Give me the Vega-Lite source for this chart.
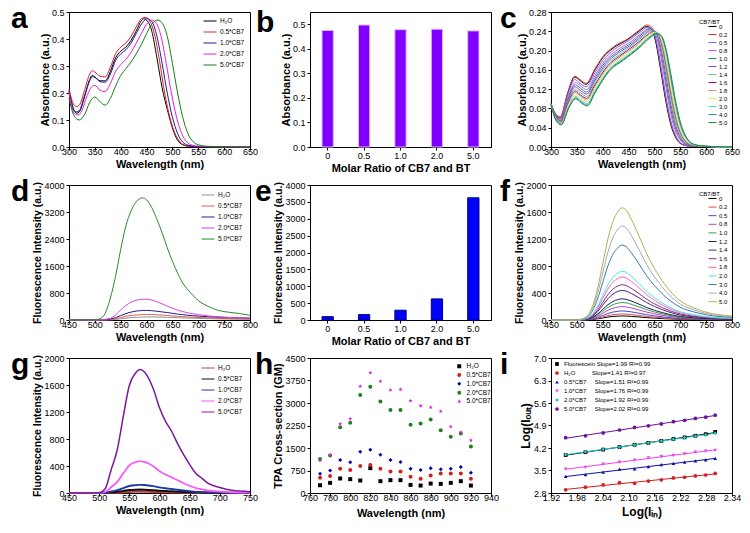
{
"$schema": "https://vega.github.io/schema/vega-lite/v6.json",
"padding": {"left": 10, "top": 3, "right": 0, "bottom": 0},
"background": "white",
"config": {
  "font": "Liberation Sans",
  "view": {"stroke": "#000", "strokeWidth": 1},
  "axis": {"labelFont": "Liberation Sans", "labelFontSize": 9, "labelColor": "#000", "titleFont": "Liberation Sans", "titleFontSize": 11, "titleFontWeight": "bold", "titleColor": "#000", "domainColor": "#000", "tickColor": "#000", "tickSize": 3, "grid": false, "labelFlush": false, "labelOverlap": false},
  "axisX": {"labelPadding": -3, "titlePadding": 2, "labelAngle": 0},
  "axisY": {"labelPadding": 2, "titlePadding": 1},
  "title": {"font": "Liberation Sans", "fontSize": 30, "fontWeight": "bold", "anchor": "start", "frame": "group", "offset": -26, "baseline": "alphabetic", "color": "#000"},
  "legend": {"labelFont": "Liberation Sans", "labelColor": "#000", "titleFont": "Liberation Sans", "titleFontWeight": "normal", "titleColor": "#000", "padding": 0, "orient": "none"},
  "line": {"interpolate": "monotone", "strokeWidth": 1, "clip": true}
},
"datasets": {
"a": [
{"s":"H₂O","x":300,"y":0.21},{"s":"H₂O","x":310,"y":0.135},{"s":"H₂O","x":315,"y":0.125},{"s":"H₂O","x":320,"y":0.13},{"s":"H₂O","x":330,"y":0.185},{"s":"H₂O","x":340,"y":0.25},{"s":"H₂O","x":345,"y":0.265},{"s":"H₂O","x":350,"y":0.26},{"s":"H₂O","x":360,"y":0.245},{"s":"H₂O","x":370,"y":0.245},{"s":"H₂O","x":380,"y":0.28},{"s":"H₂O","x":390,"y":0.33},{"s":"H₂O","x":400,"y":0.355},{"s":"H₂O","x":410,"y":0.37},{"s":"H₂O","x":420,"y":0.395},{"s":"H₂O","x":430,"y":0.43},{"s":"H₂O","x":440,"y":0.468},{"s":"H₂O","x":445,"y":0.475},{"s":"H₂O","x":450,"y":0.47},{"s":"H₂O","x":460,"y":0.43},{"s":"H₂O","x":470,"y":0.33},{"s":"H₂O","x":480,"y":0.22},{"s":"H₂O","x":490,"y":0.14},{"s":"H₂O","x":500,"y":0.07},{"s":"H₂O","x":510,"y":0.025},{"s":"H₂O","x":520,"y":0.008},{"s":"H₂O","x":530,"y":0.003},{"s":"H₂O","x":550,"y":0.001},{"s":"H₂O","x":600,"y":0},{"s":"H₂O","x":650,"y":0},
{"s":"0.5*CB7","x":300,"y":0.215},{"s":"0.5*CB7","x":310,"y":0.155},{"s":"0.5*CB7","x":315,"y":0.15},{"s":"0.5*CB7","x":320,"y":0.155},{"s":"0.5*CB7","x":330,"y":0.21},{"s":"0.5*CB7","x":340,"y":0.27},{"s":"0.5*CB7","x":345,"y":0.283},{"s":"0.5*CB7","x":350,"y":0.278},{"s":"0.5*CB7","x":360,"y":0.262},{"s":"0.5*CB7","x":370,"y":0.26},{"s":"0.5*CB7","x":380,"y":0.295},{"s":"0.5*CB7","x":390,"y":0.345},{"s":"0.5*CB7","x":400,"y":0.37},{"s":"0.5*CB7","x":410,"y":0.385},{"s":"0.5*CB7","x":420,"y":0.41},{"s":"0.5*CB7","x":430,"y":0.445},{"s":"0.5*CB7","x":440,"y":0.475},{"s":"0.5*CB7","x":447,"y":0.48},{"s":"0.5*CB7","x":455,"y":0.47},{"s":"0.5*CB7","x":465,"y":0.42},{"s":"0.5*CB7","x":475,"y":0.32},{"s":"0.5*CB7","x":485,"y":0.2},{"s":"0.5*CB7","x":495,"y":0.11},{"s":"0.5*CB7","x":505,"y":0.05},{"s":"0.5*CB7","x":515,"y":0.018},{"s":"0.5*CB7","x":525,"y":0.006},{"s":"0.5*CB7","x":540,"y":0.002},{"s":"0.5*CB7","x":575,"y":0.001},{"s":"0.5*CB7","x":650,"y":0},
{"s":"1.0*CB7","x":300,"y":0.205},{"s":"1.0*CB7","x":310,"y":0.135},{"s":"1.0*CB7","x":315,"y":0.13},{"s":"1.0*CB7","x":320,"y":0.135},{"s":"1.0*CB7","x":330,"y":0.19},{"s":"1.0*CB7","x":340,"y":0.245},{"s":"1.0*CB7","x":345,"y":0.26},{"s":"1.0*CB7","x":350,"y":0.258},{"s":"1.0*CB7","x":360,"y":0.242},{"s":"1.0*CB7","x":370,"y":0.24},{"s":"1.0*CB7","x":380,"y":0.27},{"s":"1.0*CB7","x":390,"y":0.32},{"s":"1.0*CB7","x":400,"y":0.345},{"s":"1.0*CB7","x":410,"y":0.36},{"s":"1.0*CB7","x":420,"y":0.385},{"s":"1.0*CB7","x":430,"y":0.42},{"s":"1.0*CB7","x":440,"y":0.455},{"s":"1.0*CB7","x":451,"y":0.475},{"s":"1.0*CB7","x":460,"y":0.465},{"s":"1.0*CB7","x":470,"y":0.41},{"s":"1.0*CB7","x":480,"y":0.31},{"s":"1.0*CB7","x":490,"y":0.2},{"s":"1.0*CB7","x":500,"y":0.11},{"s":"1.0*CB7","x":510,"y":0.05},{"s":"1.0*CB7","x":520,"y":0.018},{"s":"1.0*CB7","x":530,"y":0.007},{"s":"1.0*CB7","x":545,"y":0.002},{"s":"1.0*CB7","x":580,"y":0.001},{"s":"1.0*CB7","x":650,"y":0},
{"s":"2.0*CB7","x":300,"y":0.2},{"s":"2.0*CB7","x":310,"y":0.125},{"s":"2.0*CB7","x":318,"y":0.118},{"s":"2.0*CB7","x":325,"y":0.135},{"s":"2.0*CB7","x":335,"y":0.19},{"s":"2.0*CB7","x":345,"y":0.225},{"s":"2.0*CB7","x":350,"y":0.228},{"s":"2.0*CB7","x":360,"y":0.21},{"s":"2.0*CB7","x":370,"y":0.205},{"s":"2.0*CB7","x":380,"y":0.235},{"s":"2.0*CB7","x":390,"y":0.28},{"s":"2.0*CB7","x":400,"y":0.305},{"s":"2.0*CB7","x":410,"y":0.325},{"s":"2.0*CB7","x":420,"y":0.35},{"s":"2.0*CB7","x":430,"y":0.385},{"s":"2.0*CB7","x":440,"y":0.42},{"s":"2.0*CB7","x":450,"y":0.455},{"s":"2.0*CB7","x":460,"y":0.47},{"s":"2.0*CB7","x":468,"y":0.46},{"s":"2.0*CB7","x":478,"y":0.41},{"s":"2.0*CB7","x":488,"y":0.31},{"s":"2.0*CB7","x":498,"y":0.2},{"s":"2.0*CB7","x":508,"y":0.11},{"s":"2.0*CB7","x":518,"y":0.05},{"s":"2.0*CB7","x":528,"y":0.018},{"s":"2.0*CB7","x":538,"y":0.007},{"s":"2.0*CB7","x":550,"y":0.003},{"s":"2.0*CB7","x":580,"y":0.001},{"s":"2.0*CB7","x":650,"y":0},
{"s":"5.0*CB7","x":300,"y":0.18},{"s":"5.0*CB7","x":310,"y":0.115},{"s":"5.0*CB7","x":320,"y":0.1},{"s":"5.0*CB7","x":330,"y":0.12},{"s":"5.0*CB7","x":340,"y":0.165},{"s":"5.0*CB7","x":350,"y":0.185},{"s":"5.0*CB7","x":360,"y":0.168},{"s":"5.0*CB7","x":370,"y":0.155},{"s":"5.0*CB7","x":380,"y":0.18},{"s":"5.0*CB7","x":390,"y":0.225},{"s":"5.0*CB7","x":400,"y":0.265},{"s":"5.0*CB7","x":410,"y":0.29},{"s":"5.0*CB7","x":420,"y":0.315},{"s":"5.0*CB7","x":430,"y":0.345},{"s":"5.0*CB7","x":440,"y":0.38},{"s":"5.0*CB7","x":450,"y":0.42},{"s":"5.0*CB7","x":460,"y":0.455},{"s":"5.0*CB7","x":472,"y":0.47},{"s":"5.0*CB7","x":480,"y":0.46},{"s":"5.0*CB7","x":490,"y":0.41},{"s":"5.0*CB7","x":500,"y":0.31},{"s":"5.0*CB7","x":510,"y":0.2},{"s":"5.0*CB7","x":520,"y":0.11},{"s":"5.0*CB7","x":530,"y":0.05},{"s":"5.0*CB7","x":540,"y":0.02},{"s":"5.0*CB7","x":550,"y":0.008},{"s":"5.0*CB7","x":565,"y":0.003},{"s":"5.0*CB7","x":600,"y":0.001},{"s":"5.0*CB7","x":650,"y":0}
],
"b": [{"r":"0","y":0.475},{"r":"0.5","y":0.497},{"r":"1.0","y":0.478},{"r":"2.0","y":0.48},{"r":"5.0","y":0.473}],
"e": [{"r":"0","y":100},{"r":"0.5","y":160},{"r":"1.0","y":290},{"r":"2.0","y":625},{"r":"5.0","y":3620}],
"c": [
{"s":"0","x":300,"y":0.09},{"s":"0","x":310,"y":0.065},{"s":"0","x":318,"y":0.06},{"s":"0","x":332,"y":0.11},{"s":"0","x":346,"y":0.145},{"s":"0","x":356,"y":0.138},{"s":"0","x":368,"y":0.13},{"s":"0","x":385,"y":0.16},{"s":"0","x":400,"y":0.185},{"s":"0","x":420,"y":0.205},{"s":"0","x":450,"y":0.224},{"s":"0","x":470,"y":0.24},{"s":"0","x":485,"y":0.25},{"s":"0","x":494,"y":0.245},{"s":"0","x":502,"y":0.22},{"s":"0","x":512,"y":0.16},{"s":"0","x":522,"y":0.095},{"s":"0","x":532,"y":0.045},{"s":"0","x":542,"y":0.018},{"s":"0","x":552,"y":0.006},{"s":"0","x":567,"y":0.002},{"s":"0","x":592,"y":0.001},{"s":"0","x":650,"y":0},
{"s":"0.2","x":300,"y":0.09},{"s":"0.2","x":310,"y":0.068},{"s":"0.2","x":318,"y":0.063},{"s":"0.2","x":332,"y":0.112},{"s":"0.2","x":346,"y":0.147},{"s":"0.2","x":356,"y":0.14},{"s":"0.2","x":368,"y":0.132},{"s":"0.2","x":385,"y":0.162},{"s":"0.2","x":400,"y":0.187},{"s":"0.2","x":420,"y":0.207},{"s":"0.2","x":451,"y":0.226},{"s":"0.2","x":471,"y":0.243},{"s":"0.2","x":486,"y":0.253},{"s":"0.2","x":495,"y":0.248},{"s":"0.2","x":503,"y":0.222},{"s":"0.2","x":513,"y":0.16},{"s":"0.2","x":523,"y":0.095},{"s":"0.2","x":533,"y":0.045},{"s":"0.2","x":543,"y":0.018},{"s":"0.2","x":553,"y":0.006},{"s":"0.2","x":568,"y":0.002},{"s":"0.2","x":593,"y":0.001},{"s":"0.2","x":650,"y":0},
{"s":"0.5","x":300,"y":0.09},{"s":"0.5","x":310,"y":0.064},{"s":"0.5","x":318,"y":0.058},{"s":"0.5","x":332,"y":0.106},{"s":"0.5","x":346,"y":0.14},{"s":"0.5","x":356,"y":0.132},{"s":"0.5","x":368,"y":0.125},{"s":"0.5","x":385,"y":0.154},{"s":"0.5","x":402,"y":0.182},{"s":"0.5","x":422,"y":0.202},{"s":"0.5","x":452,"y":0.222},{"s":"0.5","x":472,"y":0.238},{"s":"0.5","x":487,"y":0.248},{"s":"0.5","x":496,"y":0.243},{"s":"0.5","x":504,"y":0.218},{"s":"0.5","x":514,"y":0.159},{"s":"0.5","x":524,"y":0.094},{"s":"0.5","x":534,"y":0.045},{"s":"0.5","x":544,"y":0.018},{"s":"0.5","x":554,"y":0.006},{"s":"0.5","x":569,"y":0.002},{"s":"0.5","x":594,"y":0.001},{"s":"0.5","x":650,"y":0},
{"s":"0.8","x":300,"y":0.09},{"s":"0.8","x":310,"y":0.063},{"s":"0.8","x":319,"y":0.057},{"s":"0.8","x":333,"y":0.103},{"s":"0.8","x":347,"y":0.134},{"s":"0.8","x":357,"y":0.127},{"s":"0.8","x":369,"y":0.119},{"s":"0.8","x":385,"y":0.148},{"s":"0.8","x":404,"y":0.179},{"s":"0.8","x":425,"y":0.199},{"s":"0.8","x":455,"y":0.219},{"s":"0.8","x":475,"y":0.236},{"s":"0.8","x":490,"y":0.246},{"s":"0.8","x":499,"y":0.241},{"s":"0.8","x":507,"y":0.216},{"s":"0.8","x":517,"y":0.158},{"s":"0.8","x":527,"y":0.094},{"s":"0.8","x":537,"y":0.045},{"s":"0.8","x":547,"y":0.019},{"s":"0.8","x":557,"y":0.007},{"s":"0.8","x":572,"y":0.002},{"s":"0.8","x":597,"y":0.001},{"s":"0.8","x":650,"y":0},
{"s":"1.0","x":300,"y":0.089},{"s":"1.0","x":310,"y":0.062},{"s":"1.0","x":319,"y":0.055},{"s":"1.0","x":333,"y":0.1},{"s":"1.0","x":347,"y":0.129},{"s":"1.0","x":357,"y":0.122},{"s":"1.0","x":369,"y":0.114},{"s":"1.0","x":385,"y":0.143},{"s":"1.0","x":405,"y":0.176},{"s":"1.0","x":427,"y":0.196},{"s":"1.0","x":457,"y":0.217},{"s":"1.0","x":477,"y":0.235},{"s":"1.0","x":492,"y":0.245},{"s":"1.0","x":501,"y":0.24},{"s":"1.0","x":509,"y":0.215},{"s":"1.0","x":519,"y":0.157},{"s":"1.0","x":529,"y":0.093},{"s":"1.0","x":539,"y":0.045},{"s":"1.0","x":549,"y":0.019},{"s":"1.0","x":559,"y":0.007},{"s":"1.0","x":574,"y":0.002},{"s":"1.0","x":599,"y":0.001},{"s":"1.0","x":650,"y":0},
{"s":"1.2","x":300,"y":0.089},{"s":"1.2","x":310,"y":0.061},{"s":"1.2","x":319,"y":0.054},{"s":"1.2","x":333,"y":0.097},{"s":"1.2","x":347,"y":0.125},{"s":"1.2","x":357,"y":0.117},{"s":"1.2","x":369,"y":0.11},{"s":"1.2","x":385,"y":0.138},{"s":"1.2","x":407,"y":0.174},{"s":"1.2","x":429,"y":0.194},{"s":"1.2","x":459,"y":0.215},{"s":"1.2","x":479,"y":0.233},{"s":"1.2","x":494,"y":0.243},{"s":"1.2","x":503,"y":0.238},{"s":"1.2","x":511,"y":0.213},{"s":"1.2","x":521,"y":0.156},{"s":"1.2","x":531,"y":0.093},{"s":"1.2","x":541,"y":0.045},{"s":"1.2","x":551,"y":0.019},{"s":"1.2","x":561,"y":0.007},{"s":"1.2","x":576,"y":0.003},{"s":"1.2","x":601,"y":0.001},{"s":"1.2","x":650,"y":0},
{"s":"1.4","x":300,"y":0.089},{"s":"1.4","x":310,"y":0.06},{"s":"1.4","x":319,"y":0.052},{"s":"1.4","x":333,"y":0.094},{"s":"1.4","x":347,"y":0.12},{"s":"1.4","x":357,"y":0.113},{"s":"1.4","x":369,"y":0.105},{"s":"1.4","x":385,"y":0.134},{"s":"1.4","x":408,"y":0.171},{"s":"1.4","x":431,"y":0.191},{"s":"1.4","x":461,"y":0.214},{"s":"1.4","x":481,"y":0.232},{"s":"1.4","x":496,"y":0.242},{"s":"1.4","x":505,"y":0.237},{"s":"1.4","x":513,"y":0.212},{"s":"1.4","x":523,"y":0.155},{"s":"1.4","x":533,"y":0.092},{"s":"1.4","x":543,"y":0.045},{"s":"1.4","x":553,"y":0.019},{"s":"1.4","x":563,"y":0.007},{"s":"1.4","x":578,"y":0.003},{"s":"1.4","x":603,"y":0.001},{"s":"1.4","x":650,"y":0},
{"s":"1.6","x":300,"y":0.089},{"s":"1.6","x":310,"y":0.059},{"s":"1.6","x":319,"y":0.051},{"s":"1.6","x":333,"y":0.091},{"s":"1.6","x":347,"y":0.116},{"s":"1.6","x":357,"y":0.108},{"s":"1.6","x":369,"y":0.101},{"s":"1.6","x":385,"y":0.129},{"s":"1.6","x":410,"y":0.169},{"s":"1.6","x":433,"y":0.189},{"s":"1.6","x":463,"y":0.212},{"s":"1.6","x":483,"y":0.23},{"s":"1.6","x":498,"y":0.24},{"s":"1.6","x":507,"y":0.235},{"s":"1.6","x":515,"y":0.21},{"s":"1.6","x":525,"y":0.154},{"s":"1.6","x":535,"y":0.092},{"s":"1.6","x":545,"y":0.045},{"s":"1.6","x":555,"y":0.019},{"s":"1.6","x":565,"y":0.007},{"s":"1.6","x":580,"y":0.003},{"s":"1.6","x":605,"y":0.001},{"s":"1.6","x":650,"y":0},
{"s":"1.8","x":300,"y":0.089},{"s":"1.8","x":310,"y":0.058},{"s":"1.8","x":319,"y":0.05},{"s":"1.8","x":333,"y":0.088},{"s":"1.8","x":347,"y":0.113},{"s":"1.8","x":357,"y":0.105},{"s":"1.8","x":369,"y":0.098},{"s":"1.8","x":385,"y":0.125},{"s":"1.8","x":411,"y":0.167},{"s":"1.8","x":434,"y":0.187},{"s":"1.8","x":464,"y":0.21},{"s":"1.8","x":484,"y":0.229},{"s":"1.8","x":499,"y":0.239},{"s":"1.8","x":508,"y":0.234},{"s":"1.8","x":516,"y":0.209},{"s":"1.8","x":526,"y":0.153},{"s":"1.8","x":536,"y":0.091},{"s":"1.8","x":546,"y":0.045},{"s":"1.8","x":556,"y":0.019},{"s":"1.8","x":566,"y":0.007},{"s":"1.8","x":581,"y":0.003},{"s":"1.8","x":606,"y":0.001},{"s":"1.8","x":650,"y":0},
{"s":"2.0","x":300,"y":0.088},{"s":"2.0","x":310,"y":0.057},{"s":"2.0","x":320,"y":0.049},{"s":"2.0","x":334,"y":0.086},{"s":"2.0","x":348,"y":0.109},{"s":"2.0","x":358,"y":0.101},{"s":"2.0","x":370,"y":0.094},{"s":"2.0","x":385,"y":0.122},{"s":"2.0","x":412,"y":0.165},{"s":"2.0","x":436,"y":0.185},{"s":"2.0","x":466,"y":0.209},{"s":"2.0","x":486,"y":0.228},{"s":"2.0","x":501,"y":0.238},{"s":"2.0","x":510,"y":0.233},{"s":"2.0","x":518,"y":0.208},{"s":"2.0","x":528,"y":0.152},{"s":"2.0","x":538,"y":0.091},{"s":"2.0","x":548,"y":0.045},{"s":"2.0","x":558,"y":0.02},{"s":"2.0","x":568,"y":0.008},{"s":"2.0","x":583,"y":0.003},{"s":"2.0","x":608,"y":0.001},{"s":"2.0","x":650,"y":0},
{"s":"3.0","x":300,"y":0.088},{"s":"3.0","x":310,"y":0.056},{"s":"3.0","x":320,"y":0.047},{"s":"3.0","x":334,"y":0.083},{"s":"3.0","x":348,"y":0.105},{"s":"3.0","x":358,"y":0.097},{"s":"3.0","x":370,"y":0.09},{"s":"3.0","x":385,"y":0.117},{"s":"3.0","x":414,"y":0.163},{"s":"3.0","x":438,"y":0.183},{"s":"3.0","x":468,"y":0.207},{"s":"3.0","x":488,"y":0.227},{"s":"3.0","x":503,"y":0.237},{"s":"3.0","x":512,"y":0.232},{"s":"3.0","x":520,"y":0.207},{"s":"3.0","x":530,"y":0.151},{"s":"3.0","x":540,"y":0.091},{"s":"3.0","x":550,"y":0.045},{"s":"3.0","x":560,"y":0.02},{"s":"3.0","x":570,"y":0.008},{"s":"3.0","x":585,"y":0.003},{"s":"3.0","x":610,"y":0.001},{"s":"3.0","x":650,"y":0},
{"s":"4.0","x":300,"y":0.088},{"s":"4.0","x":310,"y":0.055},{"s":"4.0","x":320,"y":0.047},{"s":"4.0","x":334,"y":0.081},{"s":"4.0","x":348,"y":0.102},{"s":"4.0","x":358,"y":0.094},{"s":"4.0","x":370,"y":0.087},{"s":"4.0","x":385,"y":0.114},{"s":"4.0","x":414,"y":0.161},{"s":"4.0","x":439,"y":0.181},{"s":"4.0","x":469,"y":0.206},{"s":"4.0","x":489,"y":0.226},{"s":"4.0","x":504,"y":0.236},{"s":"4.0","x":513,"y":0.231},{"s":"4.0","x":521,"y":0.206},{"s":"4.0","x":531,"y":0.15},{"s":"4.0","x":541,"y":0.09},{"s":"4.0","x":551,"y":0.045},{"s":"4.0","x":561,"y":0.02},{"s":"4.0","x":571,"y":0.008},{"s":"4.0","x":586,"y":0.003},{"s":"4.0","x":611,"y":0.001},{"s":"4.0","x":650,"y":0},
{"s":"5.0","x":300,"y":0.088},{"s":"5.0","x":310,"y":0.055},{"s":"5.0","x":320,"y":0.046},{"s":"5.0","x":334,"y":0.08},{"s":"5.0","x":348,"y":0.1},{"s":"5.0","x":358,"y":0.092},{"s":"5.0","x":370,"y":0.085},{"s":"5.0","x":385,"y":0.112},{"s":"5.0","x":415,"y":0.16},{"s":"5.0","x":440,"y":0.18},{"s":"5.0","x":470,"y":0.205},{"s":"5.0","x":490,"y":0.225},{"s":"5.0","x":505,"y":0.235},{"s":"5.0","x":514,"y":0.23},{"s":"5.0","x":522,"y":0.205},{"s":"5.0","x":532,"y":0.15},{"s":"5.0","x":542,"y":0.09},{"s":"5.0","x":552,"y":0.045},{"s":"5.0","x":562,"y":0.02},{"s":"5.0","x":572,"y":0.008},{"s":"5.0","x":587,"y":0.003},{"s":"5.0","x":612,"y":0.001},{"s":"5.0","x":650,"y":0}
],
"d": [
{"s":"H₂O","x":450,"y":0},{"s":"H₂O","x":500,"y":0},{"s":"H₂O","x":510,"y":0},{"s":"H₂O","x":520,"y":3},{"s":"H₂O","x":530,"y":5},{"s":"H₂O","x":540,"y":15},{"s":"H₂O","x":550,"y":35},{"s":"H₂O","x":560,"y":55},{"s":"H₂O","x":570,"y":70},{"s":"H₂O","x":580,"y":80},{"s":"H₂O","x":592,"y":87},{"s":"H₂O","x":600,"y":89},{"s":"H₂O","x":610,"y":90},{"s":"H₂O","x":620,"y":88},{"s":"H₂O","x":630,"y":84},{"s":"H₂O","x":640,"y":80},{"s":"H₂O","x":650,"y":74},{"s":"H₂O","x":660,"y":68},{"s":"H₂O","x":670,"y":62},{"s":"H₂O","x":680,"y":58},{"s":"H₂O","x":690,"y":54},{"s":"H₂O","x":700,"y":49},{"s":"H₂O","x":720,"y":40},{"s":"H₂O","x":740,"y":33},{"s":"H₂O","x":760,"y":28},{"s":"H₂O","x":780,"y":24},{"s":"H₂O","x":800,"y":20},
{"s":"0.5*CB7","x":450,"y":0},{"s":"0.5*CB7","x":500,"y":0},{"s":"0.5*CB7","x":510,"y":1},{"s":"0.5*CB7","x":520,"y":5},{"s":"0.5*CB7","x":530,"y":15},{"s":"0.5*CB7","x":540,"y":40},{"s":"0.5*CB7","x":550,"y":75},{"s":"0.5*CB7","x":560,"y":110},{"s":"0.5*CB7","x":570,"y":135},{"s":"0.5*CB7","x":580,"y":150},{"s":"0.5*CB7","x":592,"y":162},{"s":"0.5*CB7","x":600,"y":165},{"s":"0.5*CB7","x":610,"y":162},{"s":"0.5*CB7","x":620,"y":155},{"s":"0.5*CB7","x":630,"y":145},{"s":"0.5*CB7","x":640,"y":133},{"s":"0.5*CB7","x":650,"y":120},{"s":"0.5*CB7","x":660,"y":110},{"s":"0.5*CB7","x":670,"y":100},{"s":"0.5*CB7","x":680,"y":90},{"s":"0.5*CB7","x":690,"y":82},{"s":"0.5*CB7","x":700,"y":75},{"s":"0.5*CB7","x":720,"y":60},{"s":"0.5*CB7","x":740,"y":50},{"s":"0.5*CB7","x":760,"y":42},{"s":"0.5*CB7","x":780,"y":36},{"s":"0.5*CB7","x":800,"y":30},
{"s":"1.0*CB7","x":450,"y":0},{"s":"1.0*CB7","x":500,"y":0},{"s":"1.0*CB7","x":510,"y":2},{"s":"1.0*CB7","x":520,"y":10},{"s":"1.0*CB7","x":530,"y":30},{"s":"1.0*CB7","x":540,"y":70},{"s":"1.0*CB7","x":550,"y":130},{"s":"1.0*CB7","x":560,"y":190},{"s":"1.0*CB7","x":570,"y":235},{"s":"1.0*CB7","x":580,"y":265},{"s":"1.0*CB7","x":592,"y":282},{"s":"1.0*CB7","x":600,"y":285},{"s":"1.0*CB7","x":610,"y":275},{"s":"1.0*CB7","x":620,"y":260},{"s":"1.0*CB7","x":630,"y":240},{"s":"1.0*CB7","x":640,"y":220},{"s":"1.0*CB7","x":650,"y":198},{"s":"1.0*CB7","x":660,"y":175},{"s":"1.0*CB7","x":670,"y":158},{"s":"1.0*CB7","x":680,"y":140},{"s":"1.0*CB7","x":690,"y":128},{"s":"1.0*CB7","x":700,"y":115},{"s":"1.0*CB7","x":720,"y":95},{"s":"1.0*CB7","x":740,"y":82},{"s":"1.0*CB7","x":760,"y":72},{"s":"1.0*CB7","x":780,"y":65},{"s":"1.0*CB7","x":800,"y":58},
{"s":"2.0*CB7","x":450,"y":0},{"s":"2.0*CB7","x":500,"y":0},{"s":"2.0*CB7","x":510,"y":5},{"s":"2.0*CB7","x":520,"y":20},{"s":"2.0*CB7","x":530,"y":50},{"s":"2.0*CB7","x":540,"y":150},{"s":"2.0*CB7","x":550,"y":300},{"s":"2.0*CB7","x":560,"y":430},{"s":"2.0*CB7","x":570,"y":530},{"s":"2.0*CB7","x":580,"y":585},{"s":"2.0*CB7","x":592,"y":612},{"s":"2.0*CB7","x":600,"y":615},{"s":"2.0*CB7","x":610,"y":590},{"s":"2.0*CB7","x":620,"y":540},{"s":"2.0*CB7","x":630,"y":480},{"s":"2.0*CB7","x":640,"y":410},{"s":"2.0*CB7","x":650,"y":350},{"s":"2.0*CB7","x":660,"y":295},{"s":"2.0*CB7","x":670,"y":250},{"s":"2.0*CB7","x":680,"y":210},{"s":"2.0*CB7","x":690,"y":185},{"s":"2.0*CB7","x":700,"y":160},{"s":"2.0*CB7","x":720,"y":120},{"s":"2.0*CB7","x":740,"y":95},{"s":"2.0*CB7","x":760,"y":75},{"s":"2.0*CB7","x":780,"y":60},{"s":"2.0*CB7","x":800,"y":50},
{"s":"5.0*CB7","x":450,"y":0},{"s":"5.0*CB7","x":500,"y":5},{"s":"5.0*CB7","x":510,"y":40},{"s":"5.0*CB7","x":520,"y":200},{"s":"5.0*CB7","x":530,"y":650},{"s":"5.0*CB7","x":540,"y":1290},{"s":"5.0*CB7","x":550,"y":2090},{"s":"5.0*CB7","x":560,"y":2786},{"s":"5.0*CB7","x":570,"y":3234},{"s":"5.0*CB7","x":580,"y":3500},{"s":"5.0*CB7","x":592,"y":3620},{"s":"5.0*CB7","x":600,"y":3560},{"s":"5.0*CB7","x":610,"y":3333},{"s":"5.0*CB7","x":620,"y":2985},{"s":"5.0*CB7","x":630,"y":2587},{"s":"5.0*CB7","x":640,"y":2139},{"s":"5.0*CB7","x":650,"y":1741},{"s":"5.0*CB7","x":660,"y":1393},{"s":"5.0*CB7","x":670,"y":1094},{"s":"5.0*CB7","x":680,"y":895},{"s":"5.0*CB7","x":690,"y":726},{"s":"5.0*CB7","x":700,"y":577},{"s":"5.0*CB7","x":720,"y":398},{"s":"5.0*CB7","x":740,"y":279},{"s":"5.0*CB7","x":760,"y":229},{"s":"5.0*CB7","x":780,"y":189},{"s":"5.0*CB7","x":800,"y":140}
],
"f": [
{"s":"0","x":450,"y":0},{"s":"0","x":500,"y":0},{"s":"0","x":515,"y":1},{"s":"0","x":530,"y":7},{"s":"0","x":540,"y":17},{"s":"0","x":550,"y":30},{"s":"0","x":560,"y":43},{"s":"0","x":570,"y":53},{"s":"0","x":580,"y":58},{"s":"0","x":587,"y":60},{"s":"0","x":595,"y":59},{"s":"0","x":605,"y":54},{"s":"0","x":620,"y":45},{"s":"0","x":635,"y":35},{"s":"0","x":650,"y":28},{"s":"0","x":665,"y":21},{"s":"0","x":680,"y":16},{"s":"0","x":700,"y":10},{"s":"0","x":725,"y":7},{"s":"0","x":750,"y":4},{"s":"0","x":800,"y":2},
{"s":"0.2","x":450,"y":0},{"s":"0.2","x":500,"y":0},{"s":"0.2","x":515,"y":2},{"s":"0.2","x":530,"y":11},{"s":"0.2","x":540,"y":25},{"s":"0.2","x":550,"y":45},{"s":"0.2","x":560,"y":65},{"s":"0.2","x":570,"y":79},{"s":"0.2","x":580,"y":87},{"s":"0.2","x":587,"y":90},{"s":"0.2","x":595,"y":88},{"s":"0.2","x":605,"y":81},{"s":"0.2","x":620,"y":68},{"s":"0.2","x":635,"y":53},{"s":"0.2","x":650,"y":41},{"s":"0.2","x":665,"y":32},{"s":"0.2","x":680,"y":23},{"s":"0.2","x":700,"y":15},{"s":"0.2","x":725,"y":10},{"s":"0.2","x":750,"y":6},{"s":"0.2","x":800,"y":3},
{"s":"0.5","x":450,"y":0},{"s":"0.5","x":500,"y":0},{"s":"0.5","x":515,"y":3},{"s":"0.5","x":530,"y":16},{"s":"0.5","x":540,"y":38},{"s":"0.5","x":550,"y":67},{"s":"0.5","x":560,"y":96},{"s":"0.5","x":570,"y":118},{"s":"0.5","x":580,"y":130},{"s":"0.5","x":587,"y":134},{"s":"0.5","x":595,"y":131},{"s":"0.5","x":605,"y":121},{"s":"0.5","x":620,"y":101},{"s":"0.5","x":635,"y":79},{"s":"0.5","x":650,"y":62},{"s":"0.5","x":665,"y":47},{"s":"0.5","x":680,"y":35},{"s":"0.5","x":700,"y":23},{"s":"0.5","x":725,"y":15},{"s":"0.5","x":750,"y":9},{"s":"0.5","x":800,"y":5},
{"s":"0.8","x":450,"y":0},{"s":"0.8","x":500,"y":0},{"s":"0.8","x":515,"y":4},{"s":"0.8","x":530,"y":24},{"s":"0.8","x":540,"y":56},{"s":"0.8","x":550,"y":100},{"s":"0.8","x":560,"y":143},{"s":"0.8","x":570,"y":175},{"s":"0.8","x":580,"y":193},{"s":"0.8","x":587,"y":199},{"s":"0.8","x":595,"y":195},{"s":"0.8","x":605,"y":179},{"s":"0.8","x":620,"y":149},{"s":"0.8","x":635,"y":117},{"s":"0.8","x":650,"y":92},{"s":"0.8","x":665,"y":70},{"s":"0.8","x":680,"y":52},{"s":"0.8","x":700,"y":34},{"s":"0.8","x":725,"y":22},{"s":"0.8","x":750,"y":14},{"s":"0.8","x":800,"y":7},
{"s":"1.0","x":450,"y":0},{"s":"1.0","x":500,"y":0},{"s":"1.0","x":515,"y":5},{"s":"1.0","x":530,"y":31},{"s":"1.0","x":540,"y":73},{"s":"1.0","x":550,"y":130},{"s":"1.0","x":560,"y":186},{"s":"1.0","x":570,"y":228},{"s":"1.0","x":580,"y":251},{"s":"1.0","x":587,"y":259},{"s":"1.0","x":595,"y":254},{"s":"1.0","x":605,"y":233},{"s":"1.0","x":620,"y":194},{"s":"1.0","x":635,"y":153},{"s":"1.0","x":650,"y":119},{"s":"1.0","x":665,"y":91},{"s":"1.0","x":680,"y":67},{"s":"1.0","x":700,"y":44},{"s":"1.0","x":725,"y":28},{"s":"1.0","x":750,"y":18},{"s":"1.0","x":800,"y":9},
{"s":"1.2","x":450,"y":0},{"s":"1.2","x":500,"y":0},{"s":"1.2","x":515,"y":6},{"s":"1.2","x":530,"y":38},{"s":"1.2","x":540,"y":88},{"s":"1.2","x":550,"y":157},{"s":"1.2","x":560,"y":225},{"s":"1.2","x":570,"y":275},{"s":"1.2","x":580,"y":304},{"s":"1.2","x":587,"y":313},{"s":"1.2","x":595,"y":307},{"s":"1.2","x":605,"y":282},{"s":"1.2","x":620,"y":235},{"s":"1.2","x":635,"y":185},{"s":"1.2","x":650,"y":144},{"s":"1.2","x":665,"y":110},{"s":"1.2","x":680,"y":81},{"s":"1.2","x":700,"y":53},{"s":"1.2","x":725,"y":34},{"s":"1.2","x":750,"y":22},{"s":"1.2","x":800,"y":11},
{"s":"1.4","x":450,"y":0},{"s":"1.4","x":500,"y":0},{"s":"1.4","x":515,"y":9},{"s":"1.4","x":530,"y":53},{"s":"1.4","x":540,"y":123},{"s":"1.4","x":550,"y":219},{"s":"1.4","x":560,"y":315},{"s":"1.4","x":570,"y":385},{"s":"1.4","x":580,"y":425},{"s":"1.4","x":587,"y":438},{"s":"1.4","x":595,"y":429},{"s":"1.4","x":605,"y":394},{"s":"1.4","x":620,"y":329},{"s":"1.4","x":635,"y":258},{"s":"1.4","x":650,"y":201},{"s":"1.4","x":665,"y":153},{"s":"1.4","x":680,"y":114},{"s":"1.4","x":700,"y":74},{"s":"1.4","x":725,"y":48},{"s":"1.4","x":750,"y":31},{"s":"1.4","x":800,"y":15},
{"s":"1.6","x":450,"y":0},{"s":"1.6","x":500,"y":0},{"s":"1.6","x":515,"y":10},{"s":"1.6","x":530,"y":63},{"s":"1.6","x":540,"y":146},{"s":"1.6","x":550,"y":261},{"s":"1.6","x":560,"y":376},{"s":"1.6","x":570,"y":459},{"s":"1.6","x":580,"y":506},{"s":"1.6","x":587,"y":522},{"s":"1.6","x":595,"y":512},{"s":"1.6","x":605,"y":470},{"s":"1.6","x":620,"y":392},{"s":"1.6","x":635,"y":308},{"s":"1.6","x":650,"y":240},{"s":"1.6","x":665,"y":183},{"s":"1.6","x":680,"y":136},{"s":"1.6","x":700,"y":89},{"s":"1.6","x":725,"y":57},{"s":"1.6","x":750,"y":37},{"s":"1.6","x":800,"y":18},
{"s":"1.8","x":450,"y":0},{"s":"1.8","x":500,"y":0},{"s":"1.8","x":515,"y":13},{"s":"1.8","x":530,"y":76},{"s":"1.8","x":540,"y":178},{"s":"1.8","x":550,"y":319},{"s":"1.8","x":560,"y":459},{"s":"1.8","x":570,"y":561},{"s":"1.8","x":580,"y":618},{"s":"1.8","x":587,"y":637},{"s":"1.8","x":595,"y":624},{"s":"1.8","x":605,"y":573},{"s":"1.8","x":620,"y":478},{"s":"1.8","x":635,"y":376},{"s":"1.8","x":650,"y":293},{"s":"1.8","x":665,"y":223},{"s":"1.8","x":680,"y":166},{"s":"1.8","x":700,"y":108},{"s":"1.8","x":725,"y":70},{"s":"1.8","x":750,"y":45},{"s":"1.8","x":800,"y":22},
{"s":"2.0","x":450,"y":0},{"s":"2.0","x":500,"y":0},{"s":"2.0","x":515,"y":14},{"s":"2.0","x":530,"y":87},{"s":"2.0","x":540,"y":202},{"s":"2.0","x":550,"y":361},{"s":"2.0","x":560,"y":519},{"s":"2.0","x":570,"y":634},{"s":"2.0","x":580,"y":699},{"s":"2.0","x":587,"y":721},{"s":"2.0","x":595,"y":707},{"s":"2.0","x":605,"y":649},{"s":"2.0","x":620,"y":541},{"s":"2.0","x":635,"y":425},{"s":"2.0","x":650,"y":332},{"s":"2.0","x":665,"y":252},{"s":"2.0","x":680,"y":187},{"s":"2.0","x":700,"y":123},{"s":"2.0","x":725,"y":79},{"s":"2.0","x":750,"y":50},{"s":"2.0","x":800,"y":25},
{"s":"3.0","x":450,"y":0},{"s":"3.0","x":500,"y":0},{"s":"3.0","x":515,"y":22},{"s":"3.0","x":530,"y":133},{"s":"3.0","x":540,"y":311},{"s":"3.0","x":550,"y":555},{"s":"3.0","x":560,"y":799},{"s":"3.0","x":570,"y":977},{"s":"3.0","x":580,"y":1077},{"s":"3.0","x":587,"y":1110},{"s":"3.0","x":595,"y":1088},{"s":"3.0","x":605,"y":999},{"s":"3.0","x":620,"y":833},{"s":"3.0","x":635,"y":655},{"s":"3.0","x":650,"y":511},{"s":"3.0","x":665,"y":389},{"s":"3.0","x":680,"y":289},{"s":"3.0","x":700,"y":189},{"s":"3.0","x":725,"y":122},{"s":"3.0","x":750,"y":78},{"s":"3.0","x":800,"y":39},
{"s":"4.0","x":450,"y":0},{"s":"4.0","x":500,"y":0},{"s":"4.0","x":515,"y":28},{"s":"4.0","x":530,"y":167},{"s":"4.0","x":540,"y":390},{"s":"4.0","x":550,"y":697},{"s":"4.0","x":560,"y":1003},{"s":"4.0","x":570,"y":1226},{"s":"4.0","x":580,"y":1351},{"s":"4.0","x":587,"y":1393},{"s":"4.0","x":595,"y":1365},{"s":"4.0","x":605,"y":1254},{"s":"4.0","x":620,"y":1045},{"s":"4.0","x":635,"y":822},{"s":"4.0","x":650,"y":641},{"s":"4.0","x":665,"y":488},{"s":"4.0","x":680,"y":362},{"s":"4.0","x":700,"y":237},{"s":"4.0","x":725,"y":153},{"s":"4.0","x":750,"y":98},{"s":"4.0","x":800,"y":49},
{"s":"5.0","x":450,"y":0},{"s":"5.0","x":500,"y":0},{"s":"5.0","x":515,"y":33},{"s":"5.0","x":530,"y":199},{"s":"5.0","x":540,"y":465},{"s":"5.0","x":550,"y":831},{"s":"5.0","x":560,"y":1197},{"s":"5.0","x":570,"y":1463},{"s":"5.0","x":580,"y":1612},{"s":"5.0","x":587,"y":1662},{"s":"5.0","x":595,"y":1629},{"s":"5.0","x":605,"y":1496},{"s":"5.0","x":620,"y":1247},{"s":"5.0","x":635,"y":981},{"s":"5.0","x":650,"y":765},{"s":"5.0","x":665,"y":582},{"s":"5.0","x":680,"y":432},{"s":"5.0","x":700,"y":283},{"s":"5.0","x":725,"y":183},{"s":"5.0","x":750,"y":116},{"s":"5.0","x":800,"y":58}
],
"g": [
{"s":"H₂O","x":450,"y":0},{"s":"H₂O","x":500,"y":0},{"s":"H₂O","x":510,"y":1},{"s":"H₂O","x":520,"y":4},{"s":"H₂O","x":530,"y":7},{"s":"H₂O","x":540,"y":12},{"s":"H₂O","x":550,"y":17},{"s":"H₂O","x":560,"y":19},{"s":"H₂O","x":568,"y":20},{"s":"H₂O","x":575,"y":20},{"s":"H₂O","x":590,"y":17},{"s":"H₂O","x":600,"y":14},{"s":"H₂O","x":610,"y":12},{"s":"H₂O","x":620,"y":10},{"s":"H₂O","x":630,"y":8},{"s":"H₂O","x":640,"y":6},{"s":"H₂O","x":650,"y":5},{"s":"H₂O","x":660,"y":3},{"s":"H₂O","x":670,"y":2},{"s":"H₂O","x":680,"y":2},{"s":"H₂O","x":700,"y":1},{"s":"H₂O","x":720,"y":0},{"s":"H₂O","x":750,"y":0},
{"s":"0.5*CB7","x":450,"y":0},{"s":"0.5*CB7","x":500,"y":0},{"s":"0.5*CB7","x":510,"y":2},{"s":"0.5*CB7","x":520,"y":10},{"s":"0.5*CB7","x":530,"y":18},{"s":"0.5*CB7","x":540,"y":31},{"s":"0.5*CB7","x":550,"y":44},{"s":"0.5*CB7","x":560,"y":49},{"s":"0.5*CB7","x":568,"y":50},{"s":"0.5*CB7","x":575,"y":49},{"s":"0.5*CB7","x":590,"y":42},{"s":"0.5*CB7","x":600,"y":35},{"s":"0.5*CB7","x":610,"y":29},{"s":"0.5*CB7","x":620,"y":25},{"s":"0.5*CB7","x":630,"y":20},{"s":"0.5*CB7","x":640,"y":16},{"s":"0.5*CB7","x":650,"y":12},{"s":"0.5*CB7","x":660,"y":8},{"s":"0.5*CB7","x":670,"y":6},{"s":"0.5*CB7","x":680,"y":4},{"s":"0.5*CB7","x":700,"y":2},{"s":"0.5*CB7","x":720,"y":1},{"s":"0.5*CB7","x":750,"y":1},
{"s":"1.0*CB7","x":450,"y":0},{"s":"1.0*CB7","x":500,"y":0},{"s":"1.0*CB7","x":510,"y":4},{"s":"1.0*CB7","x":520,"y":23},{"s":"1.0*CB7","x":530,"y":42},{"s":"1.0*CB7","x":540,"y":74},{"s":"1.0*CB7","x":550,"y":104},{"s":"1.0*CB7","x":560,"y":116},{"s":"1.0*CB7","x":568,"y":120},{"s":"1.0*CB7","x":575,"y":118},{"s":"1.0*CB7","x":590,"y":101},{"s":"1.0*CB7","x":600,"y":83},{"s":"1.0*CB7","x":610,"y":70},{"s":"1.0*CB7","x":620,"y":60},{"s":"1.0*CB7","x":630,"y":48},{"s":"1.0*CB7","x":640,"y":37},{"s":"1.0*CB7","x":650,"y":28},{"s":"1.0*CB7","x":660,"y":19},{"s":"1.0*CB7","x":670,"y":14},{"s":"1.0*CB7","x":680,"y":10},{"s":"1.0*CB7","x":700,"y":5},{"s":"1.0*CB7","x":720,"y":3},{"s":"1.0*CB7","x":750,"y":1},
{"s":"2.0*CB7","x":450,"y":0},{"s":"2.0*CB7","x":500,"y":1},{"s":"2.0*CB7","x":510,"y":16},{"s":"2.0*CB7","x":520,"y":89},{"s":"2.0*CB7","x":530,"y":165},{"s":"2.0*CB7","x":540,"y":291},{"s":"2.0*CB7","x":550,"y":409},{"s":"2.0*CB7","x":560,"y":456},{"s":"2.0*CB7","x":568,"y":470},{"s":"2.0*CB7","x":575,"y":461},{"s":"2.0*CB7","x":590,"y":395},{"s":"2.0*CB7","x":600,"y":324},{"s":"2.0*CB7","x":610,"y":273},{"s":"2.0*CB7","x":620,"y":235},{"s":"2.0*CB7","x":630,"y":188},{"s":"2.0*CB7","x":640,"y":146},{"s":"2.0*CB7","x":650,"y":108},{"s":"2.0*CB7","x":660,"y":75},{"s":"2.0*CB7","x":670,"y":56},{"s":"2.0*CB7","x":680,"y":38},{"s":"2.0*CB7","x":700,"y":21},{"s":"2.0*CB7","x":720,"y":10},{"s":"2.0*CB7","x":750,"y":5},
{"s":"5.0*CB7","x":450,"y":0},{"s":"5.0*CB7","x":500,"y":5},{"s":"5.0*CB7","x":510,"y":64},{"s":"5.0*CB7","x":520,"y":348},{"s":"5.0*CB7","x":530,"y":641},{"s":"5.0*CB7","x":540,"y":1135},{"s":"5.0*CB7","x":550,"y":1592},{"s":"5.0*CB7","x":560,"y":1775},{"s":"5.0*CB7","x":568,"y":1830},{"s":"5.0*CB7","x":575,"y":1793},{"s":"5.0*CB7","x":590,"y":1537},{"s":"5.0*CB7","x":600,"y":1263},{"s":"5.0*CB7","x":610,"y":1061},{"s":"5.0*CB7","x":620,"y":915},{"s":"5.0*CB7","x":630,"y":732},{"s":"5.0*CB7","x":640,"y":567},{"s":"5.0*CB7","x":650,"y":421},{"s":"5.0*CB7","x":660,"y":293},{"s":"5.0*CB7","x":670,"y":220},{"s":"5.0*CB7","x":680,"y":146},{"s":"5.0*CB7","x":700,"y":81},{"s":"5.0*CB7","x":720,"y":40},{"s":"5.0*CB7","x":750,"y":20}
],
"h": [
{"s":"H₂O","x":770,"y":259},{"s":"H₂O","x":780,"y":338},{"s":"H₂O","x":790,"y":484},{"s":"H₂O","x":800,"y":461},{"s":"H₂O","x":810,"y":416},{"s":"H₂O","x":820,"y":830},{"s":"H₂O","x":830,"y":394},{"s":"H₂O","x":840,"y":428},{"s":"H₂O","x":850,"y":428},{"s":"H₂O","x":860,"y":270},{"s":"H₂O","x":870,"y":248},{"s":"H₂O","x":880,"y":315},{"s":"H₂O","x":890,"y":304},{"s":"H₂O","x":900,"y":338},{"s":"H₂O","x":910,"y":394},{"s":"H₂O","x":920,"y":248},
{"s":"0.5*CB7","x":770,"y":506},{"s":"0.5*CB7","x":780,"y":563},{"s":"0.5*CB7","x":790,"y":810},{"s":"0.5*CB7","x":800,"y":765},{"s":"0.5*CB7","x":810,"y":900},{"s":"0.5*CB7","x":820,"y":934},{"s":"0.5*CB7","x":830,"y":810},{"s":"0.5*CB7","x":840,"y":720},{"s":"0.5*CB7","x":850,"y":720},{"s":"0.5*CB7","x":860,"y":540},{"s":"0.5*CB7","x":870,"y":473},{"s":"0.5*CB7","x":880,"y":585},{"s":"0.5*CB7","x":890,"y":653},{"s":"0.5*CB7","x":900,"y":653},{"s":"0.5*CB7","x":910,"y":653},{"s":"0.5*CB7","x":920,"y":473},
{"s":"1.0*CB7","x":770,"y":641},{"s":"1.0*CB7","x":780,"y":754},{"s":"1.0*CB7","x":790,"y":1103},{"s":"1.0*CB7","x":800,"y":1024},{"s":"1.0*CB7","x":810,"y":1373},{"s":"1.0*CB7","x":820,"y":1440},{"s":"1.0*CB7","x":830,"y":1271},{"s":"1.0*CB7","x":840,"y":1103},{"s":"1.0*CB7","x":850,"y":1035},{"s":"1.0*CB7","x":860,"y":810},{"s":"1.0*CB7","x":870,"y":765},{"s":"1.0*CB7","x":880,"y":821},{"s":"1.0*CB7","x":890,"y":788},{"s":"1.0*CB7","x":900,"y":810},{"s":"1.0*CB7","x":910,"y":866},{"s":"1.0*CB7","x":920,"y":675},
{"s":"2.0*CB7","x":770,"y":1136},{"s":"2.0*CB7","x":780,"y":1250},{"s":"2.0*CB7","x":790,"y":2194},{"s":"2.0*CB7","x":800,"y":2340},{"s":"2.0*CB7","x":810,"y":3263},{"s":"2.0*CB7","x":820,"y":3544},{"s":"2.0*CB7","x":830,"y":3049},{"s":"2.0*CB7","x":840,"y":2768},{"s":"2.0*CB7","x":850,"y":2768},{"s":"2.0*CB7","x":860,"y":2273},{"s":"2.0*CB7","x":870,"y":2318},{"s":"2.0*CB7","x":880,"y":2453},{"s":"2.0*CB7","x":890,"y":2093},{"s":"2.0*CB7","x":900,"y":1879},{"s":"2.0*CB7","x":910,"y":1980},{"s":"2.0*CB7","x":920,"y":1553},
{"s":"5.0*CB7","x":770,"y":1080},{"s":"5.0*CB7","x":780,"y":1271},{"s":"5.0*CB7","x":790,"y":2306},{"s":"5.0*CB7","x":800,"y":2475},{"s":"5.0*CB7","x":810,"y":3555},{"s":"5.0*CB7","x":820,"y":4005},{"s":"5.0*CB7","x":830,"y":3724},{"s":"5.0*CB7","x":840,"y":3431},{"s":"5.0*CB7","x":850,"y":3454},{"s":"5.0*CB7","x":860,"y":3071},{"s":"5.0*CB7","x":870,"y":2903},{"s":"5.0*CB7","x":880,"y":2858},{"s":"5.0*CB7","x":890,"y":2723},{"s":"5.0*CB7","x":900,"y":2216},{"s":"5.0*CB7","x":910,"y":2025},{"s":"5.0*CB7","x":920,"y":1755}
],
"i": [
{"s":"Fluorescein","x":1.954,"y":3.98},{"s":"Fluorescein","x":2.0,"y":4.07},{"s":"Fluorescein","x":2.041,"y":4.15},{"s":"Fluorescein","x":2.079,"y":4.23},{"s":"Fluorescein","x":2.114,"y":4.3},{"s":"Fluorescein","x":2.146,"y":4.36},{"s":"Fluorescein","x":2.176,"y":4.42},{"s":"Fluorescein","x":2.204,"y":4.48},{"s":"Fluorescein","x":2.23,"y":4.53},{"s":"Fluorescein","x":2.255,"y":4.58},{"s":"Fluorescein","x":2.279,"y":4.63},{"s":"Fluorescein","x":2.301,"y":4.7},
{"s":"H₂O","x":1.954,"y":2.9},{"s":"H₂O","x":2.0,"y":2.98},{"s":"H₂O","x":2.041,"y":3.05},{"s":"H₂O","x":2.079,"y":3.12},{"s":"H₂O","x":2.114,"y":3.1},{"s":"H₂O","x":2.146,"y":3.17},{"s":"H₂O","x":2.176,"y":3.21},{"s":"H₂O","x":2.204,"y":3.27},{"s":"H₂O","x":2.23,"y":3.29},{"s":"H₂O","x":2.255,"y":3.33},{"s":"H₂O","x":2.279,"y":3.36},{"s":"H₂O","x":2.301,"y":3.41},
{"s":"0.5*CB7","x":1.954,"y":3.32},{"s":"0.5*CB7","x":2.0,"y":3.37},{"s":"0.5*CB7","x":2.041,"y":3.45},{"s":"0.5*CB7","x":2.079,"y":3.54},{"s":"0.5*CB7","x":2.114,"y":3.55},{"s":"0.5*CB7","x":2.146,"y":3.62},{"s":"0.5*CB7","x":2.176,"y":3.68},{"s":"0.5*CB7","x":2.204,"y":3.72},{"s":"0.5*CB7","x":2.23,"y":3.76},{"s":"0.5*CB7","x":2.255,"y":3.8},{"s":"0.5*CB7","x":2.279,"y":3.83},{"s":"0.5*CB7","x":2.301,"y":3.88},
{"s":"1.0*CB7","x":1.954,"y":3.54},{"s":"1.0*CB7","x":2.0,"y":3.6},{"s":"1.0*CB7","x":2.041,"y":3.7},{"s":"1.0*CB7","x":2.079,"y":3.76},{"s":"1.0*CB7","x":2.114,"y":3.82},{"s":"1.0*CB7","x":2.146,"y":3.89},{"s":"1.0*CB7","x":2.176,"y":3.93},{"s":"1.0*CB7","x":2.204,"y":3.97},{"s":"1.0*CB7","x":2.23,"y":4.02},{"s":"1.0*CB7","x":2.255,"y":4.07},{"s":"1.0*CB7","x":2.279,"y":4.1},{"s":"1.0*CB7","x":2.301,"y":4.13},
{"s":"2.0*CB7","x":1.954,"y":3.99},{"s":"2.0*CB7","x":2.0,"y":4.08},{"s":"2.0*CB7","x":2.041,"y":4.16},{"s":"2.0*CB7","x":2.079,"y":4.23},{"s":"2.0*CB7","x":2.114,"y":4.3},{"s":"2.0*CB7","x":2.146,"y":4.36},{"s":"2.0*CB7","x":2.176,"y":4.42},{"s":"2.0*CB7","x":2.204,"y":4.47},{"s":"2.0*CB7","x":2.23,"y":4.52},{"s":"2.0*CB7","x":2.255,"y":4.57},{"s":"2.0*CB7","x":2.279,"y":4.61},{"s":"2.0*CB7","x":2.301,"y":4.66},
{"s":"5.0*CB7","x":1.954,"y":4.52},{"s":"5.0*CB7","x":2.0,"y":4.58},{"s":"5.0*CB7","x":2.041,"y":4.67},{"s":"5.0*CB7","x":2.079,"y":4.76},{"s":"5.0*CB7","x":2.114,"y":4.84},{"s":"5.0*CB7","x":2.146,"y":4.89},{"s":"5.0*CB7","x":2.176,"y":4.95},{"s":"5.0*CB7","x":2.204,"y":5.02},{"s":"5.0*CB7","x":2.23,"y":5.06},{"s":"5.0*CB7","x":2.255,"y":5.12},{"s":"5.0*CB7","x":2.279,"y":5.16},{"s":"5.0*CB7","x":2.301,"y":5.22}
]
},
"columns": 3,
"spacing": {"row": 38, "column": 60},
"bounds": "flush",
"resolve": {"scale": {"color": "independent", "shape": "independent", "size": "independent", "stroke": "independent"}},
"concat": [
{
"title": {"text": "a", "dx": -58},
"width": 181, "height": 135,
"data": {"name": "a"},
"mark": {"type": "line"},
"encoding": {
"x": {"field": "x", "type": "quantitative", "scale": {"domain": [300, 650], "nice": false}, "axis": {"title": "Wavelength (nm)", "values": [300,350,400,450,500,550,600,650]}},
"y": {"field": "y", "type": "quantitative", "scale": {"domain": [0, 0.5], "nice": false}, "axis": {"title": "Absorbance (a.u.)", "values": [0,0.1,0.2,0.3,0.4,0.5], "format": ".1f"}},
"color": {"field": "s", "type": "nominal", "scale": {"domain": ["H₂O","0.5*CB7","1.0*CB7","2.0*CB7","5.0*CB7"], "range": ["#000000","#e02020","#1a1aa0","#e020e0","#108010"]},
  "legend": {"orient": "none", "legendX": 134, "legendY": 2, "title": null, "symbolType": "stroke", "symbolSize": 169, "symbolStrokeWidth": 1.2, "labelFontSize": 6.5, "rowPadding": -2.3, "labelOffset": 3}}
}
},
{
"title": {"text": "b", "dx": -54},
"width": 181, "height": 135,
"data": {"name": "b"},
"mark": {"type": "bar", "fill": "#8000ff", "stroke": "#e2b8ff", "strokeWidth": 1},
"encoding": {
"x": {"field": "r", "type": "nominal", "sort": null, "scale": {"paddingInner": 0.69, "paddingOuter": 0.33}, "axis": {"title": "Molar Ratio of CB7 and BT", "labelPadding": 1}},
"y": {"field": "y", "type": "quantitative", "scale": {"domain": [0, 0.55], "nice": false}, "axis": {"title": "Absorbance (a.u.)", "values": [0,0.1,0.2,0.3,0.4,0.5], "format": ".1f"}}
}
},
{
"title": {"text": "c", "dx": -51},
"width": 181, "height": 135,
"data": {"name": "c"},
"mark": {"type": "line"},
"encoding": {
"x": {"field": "x", "type": "quantitative", "scale": {"domain": [300, 650], "nice": false}, "axis": {"title": "Wavelength (nm)", "values": [300,350,400,450,500,550,600,650]}},
"y": {"field": "y", "type": "quantitative", "scale": {"domain": [0, 0.28], "nice": false}, "axis": {"title": "Absorbance (a.u.)", "values": [0,0.04,0.08,0.12,0.16,0.2,0.24,0.28], "format": ".2f"}},
"color": {"field": "s", "type": "nominal", "scale": {"domain": ["0","0.2","0.5","0.8","1.0","1.2","1.4","1.6","1.8","2.0","3.0","4.0","5.0"], "range": ["#000000","#e03030","#6868ff","#e050e0","#208888","#9040e0","#60c890","#801880","#d09860","#e8e860","#50d8e0","#3888a8","#209040"]},
  "legend": {"orient": "none", "legendX": 148, "legendY": 7, "title": "CB7/BT", "titleFontSize": 6, "titlePadding": -3, "symbolOffset": 9, "symbolType": "stroke", "symbolSize": 64, "symbolStrokeWidth": 1.2, "labelFontSize": 6, "rowPadding": -1.4, "labelOffset": 2}}
}
},
{
"title": {"text": "d", "dx": -58},
"width": 181, "height": 135,
"data": {"name": "d"},
"mark": {"type": "line"},
"encoding": {
"x": {"field": "x", "type": "quantitative", "scale": {"domain": [450, 800], "nice": false}, "axis": {"title": "Wavelength (nm)", "values": [450,500,550,600,650,700,750,800]}},
"y": {"field": "y", "type": "quantitative", "scale": {"domain": [0, 4000], "nice": false}, "axis": {"title": "Fluorescence Intensity (a.u.)", "titleFontSize": 10.5, "format": "d", "values": [0,800,1600,2400,3200,4000]}},
"color": {"field": "s", "type": "nominal", "scale": {"domain": ["H₂O","0.5*CB7","1.0*CB7","2.0*CB7","5.0*CB7"], "range": ["#909090","#e06050","#20208a","#e040e0","#2a8a2a"]},
  "legend": {"orient": "none", "legendX": 132, "legendY": 3, "title": null, "symbolType": "stroke", "symbolSize": 169, "symbolStrokeWidth": 1.2, "labelFontSize": 6.5, "rowPadding": -0.7, "labelOffset": 3}},
"size": {"field": "s", "type": "nominal", "scale": {"domain": ["5.0*CB7","2.0*CB7","1.0*CB7","0.5*CB7","H₂O"], "range": [1,1,1,1,2.2]}, "legend": null}
}
},
{
"title": {"text": "e", "dx": -55},
"width": 181, "height": 135,
"data": {"name": "e"},
"mark": {"type": "bar", "fill": "#0000ff", "stroke": "#000080", "strokeWidth": 1},
"encoding": {
"x": {"field": "r", "type": "nominal", "sort": null, "scale": {"paddingInner": 0.69, "paddingOuter": 0.33}, "axis": {"title": "Molar Ratio of CB7 and BT", "labelPadding": 1}},
"y": {"field": "y", "type": "quantitative", "scale": {"domain": [0, 4000], "nice": false}, "axis": {"title": "Fluorescence Intensity (a.u.)", "titleFontSize": 10.5, "format": "d", "values": [0,500,1000,1500,2000,2500,3000,3500,4000]}}
}
},
{
"title": {"text": "f", "dx": -51},
"width": 181, "height": 135,
"data": {"name": "f"},
"mark": {"type": "line"},
"encoding": {
"x": {"field": "x", "type": "quantitative", "scale": {"domain": [450, 800], "nice": false}, "axis": {"title": "Wavelength (nm)", "values": [450,500,550,600,650,700,750,800]}},
"y": {"field": "y", "type": "quantitative", "scale": {"domain": [0, 2000], "nice": false}, "axis": {"title": "Fluorescence Intensity (a.u.)", "titleFontSize": 10.5, "format": "d", "values": [0,400,800,1200,1600,2000]}},
"color": {"field": "s", "type": "nominal", "scale": {"domain": ["0","0.2","0.5","0.8","1.0","1.2","1.4","1.6","1.8","2.0","3.0","4.0","5.0"], "range": ["#000000","#e05050","#4848c8","#c040c0","#30a050","#202040","#502070","#803088","#ff60c0","#40e8e8","#3a7aa8","#a8a8b8","#b0b050"]},
  "legend": {"orient": "none", "legendX": 148, "legendY": 6, "title": "CB7/BT", "titleFontSize": 6, "titlePadding": -3, "symbolOffset": 9, "symbolType": "stroke", "symbolSize": 64, "symbolStrokeWidth": 1.2, "labelFontSize": 6, "rowPadding": 0.6, "labelOffset": 2}}
}
},
{
"title": {"text": "g", "dx": -58},
"width": 181, "height": 135,
"data": {"name": "g"},
"mark": {"type": "line"},
"encoding": {
"x": {"field": "x", "type": "quantitative", "scale": {"domain": [450, 750], "nice": false}, "axis": {"title": "Wavelength (nm)", "values": [450,500,550,600,650,700,750]}},
"y": {"field": "y", "type": "quantitative", "scale": {"domain": [0, 2000], "nice": false}, "axis": {"title": "Fluorescence Intensity (a.u.)", "titleFontSize": 10.5, "format": "d", "values": [0,400,800,1200,1600,2000]}},
"color": {"field": "s", "type": "nominal", "scale": {"domain": ["H₂O","0.5*CB7","1.0*CB7","2.0*CB7","5.0*CB7"], "range": ["#c04040","#101010","#1a3aa0","#ff50ff","#7a1a9a"]},
  "legend": {"orient": "none", "legendX": 132, "legendY": 3, "title": null, "symbolType": "stroke", "symbolSize": 169, "symbolStrokeWidth": 1.2, "labelFontSize": 6.5, "rowPadding": -0.7, "labelOffset": 3}},
"size": {"field": "s", "type": "nominal", "scale": {"domain": ["5.0*CB7","2.0*CB7","1.0*CB7","0.5*CB7","H₂O"], "range": [1.5,2.2,1,1,1]}, "legend": null}
}
},
{
"title": {"text": "h", "dx": -55},
"width": 181, "height": 135,
"data": {"name": "h"},
"mark": {"type": "point", "filled": true, "size": 16, "opacity": 1},
"encoding": {
"x": {"field": "x", "type": "quantitative", "scale": {"domain": [760, 940], "nice": false}, "axis": {"title": "Wavelength (nm)", "titlePadding": 5, "values": [760,780,800,820,840,860,880,900,920,940]}},
"y": {"field": "y", "type": "quantitative", "scale": {"domain": [0, 4500], "nice": false}, "axis": {"title": "TPA Cross-section (GM)", "format": "d", "values": [0,750,1500,2250,3000,3750,4500]}},
"color": {"field": "s", "type": "nominal", "scale": {"domain": ["H₂O","0.5*CB7","1.0*CB7","2.0*CB7","5.0*CB7"], "range": ["#000000","#d02020","#0000b0","#208020","#e020e0"]},
  "legend": {"orient": "none", "legendX": 146, "legendY": 5, "title": null, "symbolSize": 16, "symbolStrokeWidth": 0, "labelFontSize": 6.5, "rowPadding": 1.8, "labelOffset": 4}},
"shape": {"field": "s", "type": "nominal", "scale": {"domain": ["H₂O","0.5*CB7","1.0*CB7","2.0*CB7","5.0*CB7"], "range": ["square","circle","diamond","circle","M0,-1L0.29,-0.4L0.95,-0.31L0.47,0.15L0.59,0.81L0,0.5L-0.59,0.81L-0.47,0.15L-0.95,-0.31L-0.29,-0.4Z"]},
  "legend": {"orient": "none", "legendX": 146, "legendY": 5, "title": null, "symbolSize": 16, "symbolStrokeWidth": 0, "labelFontSize": 6.5, "rowPadding": 1.8, "labelOffset": 4}}
}
},
{
"title": {"text": "i", "dx": -51},
"width": 181, "height": 135,
"data": {"name": "i"},
"encoding": {
"x": {"field": "x", "type": "quantitative", "scale": {"domain": [1.92, 2.34], "nice": false}, "axis": {"title": "Log(Iᵢₙ)", "titleFontSize": 12, "titlePadding": 4, "values": [1.92,1.98,2.04,2.1,2.16,2.22,2.28,2.34], "format": ".2f"}},
"y": {"field": "y", "type": "quantitative", "scale": {"domain": [2.8, 7.0], "nice": false}, "axis": {"title": "Log(Iₒᵤₜ)", "titleFontSize": 12, "values": [2.8,3.5,4.2,4.9,5.6,6.3,7.0], "format": ".1f"}}
},
"layer": [
{
"transform": [{"regression": "y", "on": "x", "groupby": ["s"]}],
"mark": {"type": "line", "strokeWidth": 1, "interpolate": "linear"},
"encoding": {
"stroke": {"field": "s", "type": "nominal", "scale": {"domain": ["5.0*CB7","2.0*CB7","1.0*CB7","0.5*CB7","H₂O","Fluorescein"], "range": ["#7010a0","#20c8c8","#f040f0","#1010a0","#d02020","#000000"]}, "legend": null}
}
},
{
"mark": {"type": "point", "filled": true, "size": 14, "opacity": 1},
"encoding": {
"color": {"field": "s", "type": "nominal", "scale": {"domain": ["Fluorescein","H₂O","0.5*CB7","1.0*CB7","2.0*CB7","5.0*CB7"], "range": ["#000000","#d02020","#1010a0","#f040f0","#20c8c8","#7010a0"]},
  "legend": {"orient": "none", "legendX": 3, "legendY": 3, "title": null, "symbolSize": 14, "symbolStrokeWidth": 0, "labelFontSize": 6, "rowPadding": 3, "labelOffset": 4,
   "labelExpr": "datum.label == 'Fluorescein' ? 'Fluorescein Slope=1.99 R²=0.99' : datum.label == 'H₂O' ? 'H₂O\u00a0\u00a0\u00a0\u00a0\u00a0\u00a0\u00a0\u00a0\u00a0\u00a0Slope=1.41 R²=0.97' : datum.label == '0.5*CB7' ? '0.5*CB7\u00a0\u00a0\u00a0\u00a0\u00a0Slope=1.51 R²=0.99' : datum.label == '1.0*CB7' ? '1.0*CB7\u00a0\u00a0\u00a0\u00a0\u00a0Slope=1.76 R²=0.99' : datum.label == '2.0*CB7' ? '2.0*CB7\u00a0\u00a0\u00a0\u00a0\u00a0Slope=1.92 R²=0.99' : '5.0*CB7\u00a0\u00a0\u00a0\u00a0\u00a0Slope=2.02 R²=0.99'"}},
"shape": {"field": "s", "type": "nominal", "scale": {"domain": ["Fluorescein","H₂O","0.5*CB7","1.0*CB7","2.0*CB7","5.0*CB7"], "range": ["square","circle","triangle-up","triangle-down","diamond","circle"]},
  "legend": {"orient": "none", "legendX": 3, "legendY": 3, "title": null, "symbolSize": 14, "symbolStrokeWidth": 0, "labelFontSize": 6, "rowPadding": 3, "labelOffset": 4,
   "labelExpr": "datum.label == 'Fluorescein' ? 'Fluorescein Slope=1.99 R²=0.99' : datum.label == 'H₂O' ? 'H₂O\u00a0\u00a0\u00a0\u00a0\u00a0\u00a0\u00a0\u00a0\u00a0\u00a0Slope=1.41 R²=0.97' : datum.label == '0.5*CB7' ? '0.5*CB7\u00a0\u00a0\u00a0\u00a0\u00a0Slope=1.51 R²=0.99' : datum.label == '1.0*CB7' ? '1.0*CB7\u00a0\u00a0\u00a0\u00a0\u00a0Slope=1.76 R²=0.99' : datum.label == '2.0*CB7' ? '2.0*CB7\u00a0\u00a0\u00a0\u00a0\u00a0Slope=1.92 R²=0.99' : '5.0*CB7\u00a0\u00a0\u00a0\u00a0\u00a0Slope=2.02 R²=0.99'"}}
}
}
]
}
]
}
